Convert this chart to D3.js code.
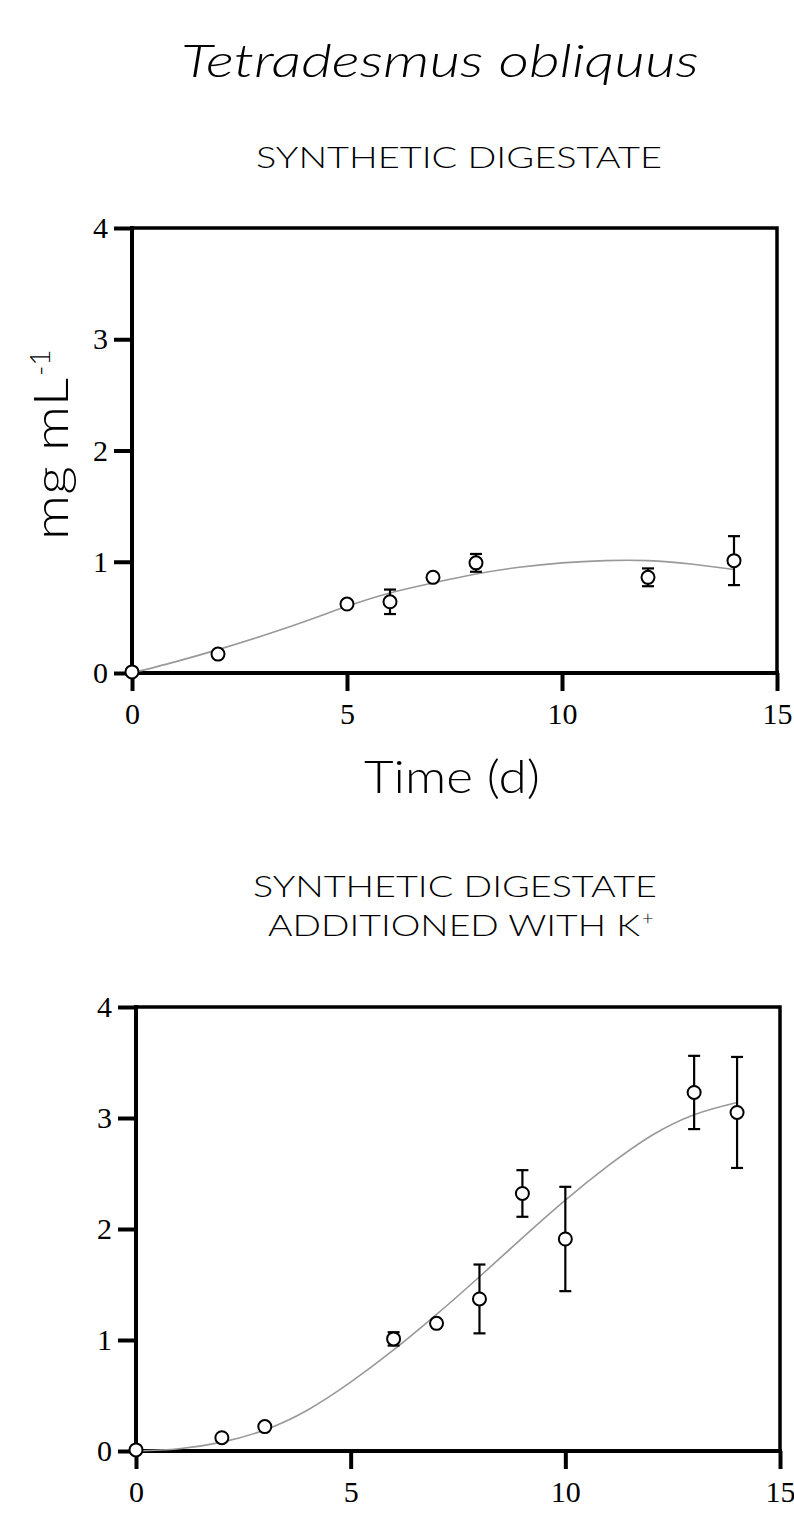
<!DOCTYPE html>
<html>
<head>
<meta charset="utf-8">
<script src="https://cdn.jsdelivr.net/npm/d3@7"></script>
<style>
  html, body { margin: 0; padding: 0; background: #fff; }
  svg { display: block; }
</style>
</head>
<body>
<div id="chart"></div>
<script>
// valori
const xTicks = [0, 5, 10, 15];
const yTicks = [0, 1, 2, 3, 4];

// pannello 1: digestato sintetico
const daysA = [0, 2, 5, 6, 7, 8, 12, 14];
const meanA = [0.01, 0.17, 0.62, 0.64, 0.86, 0.99, 0.86, 1.01];
const errA  = [0, 0, 0, 0.11, 0, 0.08, 0.08, 0.22];
const fitDaysA = [0, 1, 2, 3, 4, 5, 6, 7, 8, 9, 10, 11, 12, 13, 14];
const fitA = [0, 0.10, 0.21, 0.33, 0.46, 0.60, 0.72, 0.81, 0.89, 0.95, 0.99, 1.01, 1.01, 0.98, 0.93];

// pannello 2: digestato sintetico + K+
const daysB = [0, 2, 3, 6, 7, 8, 9, 10, 13, 14];
const meanB = [0.01, 0.12, 0.22, 1.01, 1.15, 1.37, 2.32, 1.91, 3.23, 3.05];
const errB  = [0, 0, 0, 0.06, 0, 0.31, 0.21, 0.47, 0.33, 0.50];
const fitDaysB = [0, 1, 2, 3, 4, 5, 6, 7, 8, 9, 10, 11, 12, 13, 14];
const fitB = [0, 0.02, 0.08, 0.19, 0.37, 0.62, 0.91, 1.23, 1.57, 1.92, 2.26, 2.57, 2.84, 3.03, 3.14];

const width = 794, height = 1514;
const svg = d3.select("#chart").append("svg")
  .attr("width", width)
  .attr("height", height);

const labelFont = "Lato, 'Open Sans', sans-serif";
const tickFont = "'Liberation Serif', 'Times New Roman', serif";

// testo allungato alla larghezza misurata
function label(txt, x0, y, len, size, weight, italic) {
  return svg.append("text")
    .attr("x", x0).attr("y", y)
    .attr("font-family", labelFont)
    .attr("font-weight", weight)
    .attr("font-style", italic ? "italic" : "normal")
    .attr("font-size", size)
    .attr("textLength", len)
    .attr("lengthAdjust", "spacingAndGlyphs")
    .text(txt);
}

// titolo
label("Tetradesmus obliquus", 181, 77, 518, 46, 300, true);

// intestazioni
label("SYNTHETIC DIGESTATE", 256, 168, 406, 29, 300);
label("SYNTHETIC DIGESTATE", 253, 897, 404, 29, 300);
label("ADDITIONED WITH K", 268, 936, 372, 29, 300);
svg.append("text")
  .attr("x", 642).attr("y", 925)
  .attr("font-family", labelFont)
  .attr("font-weight", 300)
  .attr("font-size", 20)
  .text("+");

function drawPanel(p) {
  const x = d3.scaleLinear().domain([0, 15]).range([p.left, p.right]);
  const y = d3.scaleLinear().domain([0, 4]).range([p.bottom, p.top]);
  const g = svg.append("g");

  // cornice
  g.append("path")
    .attr("d", `M${x(0)},${y(4)}H${x(15)}V${y(0)}`)
    .attr("fill", "none").attr("stroke", "#000").attr("stroke-width", 3.5);

  const yAxis = d3.axisLeft(y).tickValues(yTicks).tickSize(p.tick).tickPadding(6).tickFormat(d3.format("d"));
  const xAxis = d3.axisBottom(x).tickValues(xTicks).tickSize(p.tick).tickPadding(12).tickFormat(d3.format("d"));

  const ya = g.append("g").attr("transform", `translate(${x(0)},0)`).call(yAxis);
  const xa = g.append("g").attr("transform", `translate(0,${y(0)})`).call(xAxis);
  [ya, xa].forEach(a => {
    a.select(".domain").attr("stroke-width", 4);
    a.selectAll(".tick line").attr("stroke-width", 4);
    a.selectAll("text").attr("font-family", tickFont).attr("font-size", 30).attr("fill", "#000");
  });
  ya.select(".domain").attr("d", `M0,${y(0) + 2}V${y(4) - 2}`);
  xa.select(".domain").attr("d", `M${x(0) - 2},0H${x(15) + 2}`);

  // curva di regressione
  const line = d3.line()
    .x((d, i) => x(p.fitDays[i]))
    .y(d => y(d))
    .curve(d3.curveNatural);
  g.append("path")
    .datum(p.fit)
    .attr("d", line)
    .attr("fill", "none")
    .attr("stroke", "#999")
    .attr("stroke-width", 1.6);

  const pts = p.days.map((d, i) => ({ d, m: p.mean[i], e: p.err[i] }));

  // barre di errore
  const eb = g.selectAll("g.err").data(pts.filter(d => d.e > 0)).enter().append("g")
    .attr("stroke", "#000").attr("stroke-width", 2.2);
  eb.append("line")
    .attr("x1", d => x(d.d)).attr("x2", d => x(d.d))
    .attr("y1", d => y(d.m + d.e)).attr("y2", d => y(d.m - d.e));
  [1, -1].forEach(s => {
    eb.append("line")
      .attr("x1", d => x(d.d) - 6).attr("x2", d => x(d.d) + 6)
      .attr("y1", d => y(d.m + s * d.e)).attr("y2", d => y(d.m + s * d.e));
  });

  // punti
  g.selectAll("circle").data(pts).enter().append("circle")
    .attr("cx", d => x(d.d)).attr("cy", d => y(d.m))
    .attr("r", 6.5)
    .attr("fill", "#fff")
    .attr("stroke", "#000")
    .attr("stroke-width", 2);
}

drawPanel({ left: 132, right: 777, top: 228, bottom: 673, tick: 18,
  days: daysA, mean: meanA, err: errA, fitDays: fitDaysA, fit: fitA });
drawPanel({ left: 136, right: 780, top: 1007, bottom: 1451, tick: 18,
  days: daysB, mean: meanB, err: errB, fitDays: fitDaysB, fit: fitB });

// titoli degli assi (solo primo pannello)
label("Time (d)", 364, 793, 176, 46, 300);

svg.append("text")
  .attr("transform", "translate(68,540) rotate(-90)")
  .attr("font-family", labelFont)
  .attr("font-weight", 300)
  .attr("font-size", 48)
  .attr("textLength", 162)
  .attr("lengthAdjust", "spacingAndGlyphs")
  .text("mg mL");
svg.append("text")
  .attr("transform", "translate(50,376) rotate(-90)")
  .attr("font-family", labelFont)
  .attr("font-weight", 300)
  .attr("font-size", 28)
  .text("-1");
</script>
</body>
</html>
